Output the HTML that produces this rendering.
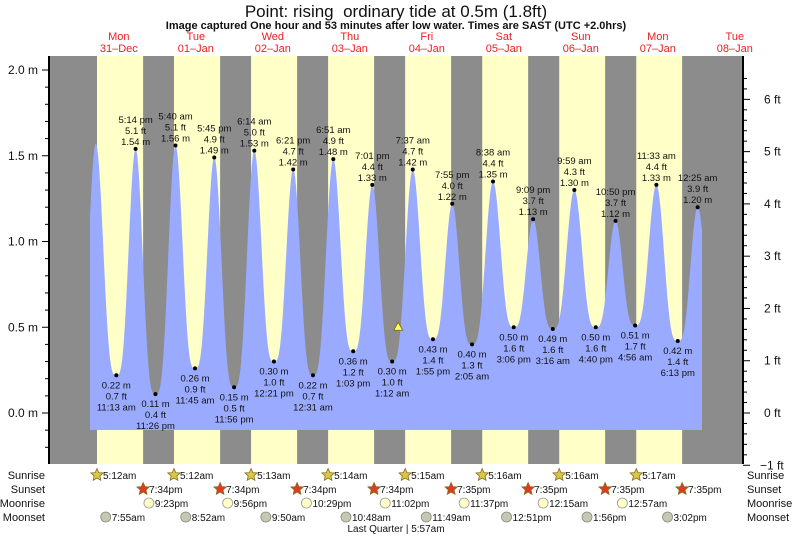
<!DOCTYPE html>
<html><head><meta charset="utf-8"><style>
body{margin:0;background:#fff}
svg{display:block;font-family:"Liberation Sans",Arial,sans-serif}
</style></head><body>
<svg id="s" width="793" height="537" viewBox="0 0 793 537" xmlns="http://www.w3.org/2000/svg">
<text x="396" y="17" text-anchor="middle" font-size="17" fill="#111" style="white-space:pre">Point: rising  ordinary tide at 0.5m (1.8ft)</text>
<text x="396" y="29" text-anchor="middle" font-size="11" font-weight="bold" fill="#111">Image captured One hour and 53 minutes after low water. Times are SAST (UTC +2.0hrs)</text>
<text x="396" y="532" text-anchor="middle" font-size="10" fill="#111">Last Quarter | 5:57am</text>
</svg>
<script>
const S=document.getElementById('s');const NS='http://www.w3.org/2000/svg';
function el(t,a,txt){const e=document.createElementNS(NS,t);for(const k in a)e.setAttribute(k,a[k]);if(txt!==undefined)e.textContent=txt;S.appendChild(e);return e;}
const X=h=>97+(h-5.2)*3.2083;const Y=m=>413-m*171.5;
function hm(s){let [t,ap]=s.split(' ');let [h,m]=t.split(':').map(Number);if(ap=='pm'&&h!=12)h+=12;if(ap=='am'&&h==12)h=0;return h+m/60;}
el('rect',{x:50,y:56,width:693,height:408,fill:'#8c8c8c'});
const sr=[5.2,5.2,5.22,5.23,5.25,5.27,5.27,5.28],ss=[19.57,19.57,19.57,19.57,19.58,19.58,19.58,19.58];
for(let d=0;d<8;d++){el('rect',{x:X(d*24+sr[d]),y:56,width:X(d*24+ss[d])-X(d*24+sr[d]),height:408,fill:'#ffffc8'});}
const E=[[0,'4:50 am',1.57,1],[0,'11:13 am',0.22,0],[0,'5:14 pm',1.54,1],[0,'11:26 pm',0.11,0],
[1,'5:40 am',1.56,1],[1,'11:45 am',0.26,0],[1,'5:45 pm',1.49,1],[1,'11:56 pm',0.15,0],
[2,'6:14 am',1.53,1],[2,'12:21 pm',0.30,0],[2,'6:21 pm',1.42,1],
[3,'12:31 am',0.22,0],[3,'6:51 am',1.48,1],[3,'1:03 pm',0.36,0],[3,'7:01 pm',1.33,1],
[4,'1:12 am',0.30,0],[4,'7:37 am',1.42,1],[4,'1:55 pm',0.43,0],[4,'7:55 pm',1.22,1],
[5,'2:05 am',0.40,0],[5,'8:38 am',1.35,1],[5,'3:06 pm',0.50,0],[5,'9:09 pm',1.13,1],
[6,'3:16 am',0.49,0],[6,'9:59 am',1.30,1],[6,'4:40 pm',0.50,0],[6,'10:50 pm',1.12,1],
[7,'4:56 am',0.51,0],[7,'11:33 am',1.33,1],[7,'6:13 pm',0.42,0],[8,'12:25 am',1.20,1],[8,'6:40 am',0.45,0]];
const P=E.map(e=>[e[0]*24+hm(e[1]),e[2]]);
P.unshift([P[0][0]-6.2,0.2]);
let d='M90,430';
for(let x=90;x<=702;x+=0.5){const h=5.2+(x-97)/3.2083;let i=0;while(i<P.length-2&&P[i+1][0]<h)i++;const [t0,m0]=P[i],[t1,m1]=P[i+1];const f=Math.min(1,Math.max(0,(h-t0)/(t1-t0)));let u=(1-Math.cos(Math.PI*f))/2;let lo,hi;if(m1>m0){lo=m0;hi=m1;}else{lo=m1;hi=m0;u=1-u;}const m=lo+(hi-lo)*Math.pow(u,1.7);d+=' L'+x+','+Y(m).toFixed(1);}
d+=' L702,430 Z';el('path',{d:d,fill:'#9aabff'});
E.slice(1,31).forEach(e=>{const x=X(e[0]*24+hm(e[1])),y=Y(e[2]);el('circle',{cx:x,cy:y,r:2,fill:'#000'});const ft=(e[2]*3.2808).toFixed(1)+' ft',m=e[2].toFixed(2)+' m';const a={'text-anchor':'middle','font-size':'9.5',fill:'#111'};
if(e[3]){el('text',Object.assign({x:x,y:y-4},a),m);el('text',Object.assign({x:x,y:y-15},a),ft);el('text',Object.assign({x:x,y:y-26},a),e[1]);}
else{el('text',Object.assign({x:x,y:y+13},a),m);el('text',Object.assign({x:x,y:y+24},a),ft);el('text',Object.assign({x:x,y:y+35},a),e[1]);}});
const cx=X(4*24+3.08),cy=Y(0.5);el('path',{d:`M${cx},${cy-5} L${cx+4.5},${cy+3} L${cx-4.5},${cy+3} Z`,fill:'#ffff66',stroke:'#886600','stroke-width':0.8});
el('line',{x1:49,y1:56,x2:49,y2:464,stroke:'#000','stroke-width':2});
el('line',{x1:743,y1:56,x2:743,y2:464,stroke:'#000','stroke-width':2});
for(let i=-2;i<=20;i++){const y=Y(i/10);if(y<56)continue;el('line',{x1:i%5==0?42:45,y1:y,x2:49,y2:y,stroke:'#000'});if(i%5==0&&i>=0)el('text',{x:38,y:y+4,'text-anchor':'end','font-size':'12',fill:'#111'},(i/10).toFixed(1)+' m');}
for(let f=-1;f<=6.5;f+=0.2){const y=Y(f*0.3048);if(y<56)continue;const maj=Math.abs(f-Math.round(f))<0.01;el('line',{x1:743,y1:y,x2:maj?750:747,y2:y,stroke:'#000'});if(maj){const r=Math.round(f);el('text',{x:r==-1?760:764,y:y+4,'font-size':'12',fill:'#111'},(r==-1?'\u22121':r)+' ft');}}
const dn=['Mon','Tue','Wed','Thu','Fri','Sat','Sun','Mon','Tue'],dt=['31\u2013Dec','01\u2013Jan','02\u2013Jan','03\u2013Jan','04\u2013Jan','05\u2013Jan','06\u2013Jan','07\u2013Jan','08\u2013Jan'];
for(let i=0;i<9;i++){const x=X(i*24+12);el('text',{x:x,y:40,'text-anchor':'middle','font-size':'11',fill:'#e82020'},dn[i]);el('text',{x:x,y:52,'text-anchor':'middle','font-size':'11',fill:'#e82020'},dt[i]);}
const rows=['Sunrise','Sunset','Moonrise','Moonset'],ry=[475,489,503,517];
rows.forEach((r,i)=>{el('text',{x:45,y:ry[i]+4,'text-anchor':'end','font-size':'11',fill:'#111'},r);el('text',{x:747,y:ry[i]+4,'font-size':'11',fill:'#111'},r);});
function star(x,y,fill){let p='';for(let k=0;k<10;k++){const r=k%2?3:6.5,a=-Math.PI/2+k*Math.PI/5;p+=(k?'L':'M')+(x+r*Math.cos(a)).toFixed(1)+','+(y+r*Math.sin(a)).toFixed(1);}el('path',{d:p+'Z',fill:fill,stroke:'#8a6a20','stroke-width':0.8});}
function lab(x,y,t){el('text',{x:x+6,y:y+4,'font-size':'10',fill:'#111'},t);}
const srT=['5:12am','5:12am','5:13am','5:14am','5:15am','5:16am','5:16am','5:17am'];
for(let i=0;i<8;i++){let x=X(i*24+sr[i]);star(x,ry[0],'#d8c848');lab(x,ry[0],srT[i]);x=X(i*24+ss[i]);star(x,ry[1],'#e03a20');lab(x,ry[1],i<4?'7:34pm':'7:35pm');}
const mr=[[0,'9:23 pm'],[1,'9:56 pm'],[2,'10:29 pm'],[3,'11:02 pm'],[4,'11:37 pm'],[6,'12:15 am'],[7,'12:57 am']];
mr.forEach(e=>{const x=X(e[0]*24+hm(e[1]));el('circle',{cx:x,cy:ry[2],r:5,fill:'#ffffc8',stroke:'#999','stroke-width':0.8});lab(x,ry[2],e[1].replace(' ',''));});
const ms=[[0,'7:55 am'],[1,'8:52 am'],[2,'9:50 am'],[3,'10:48 am'],[4,'11:49 am'],[5,'12:51 pm'],[6,'1:56 pm'],[7,'3:02 pm']];
ms.forEach(e=>{const x=X(e[0]*24+hm(e[1]));el('circle',{cx:x,cy:ry[3],r:5,fill:'#c8c8b0',stroke:'#888','stroke-width':0.8});lab(x,ry[3],e[1].replace(' ',''));});
</script>
</body></html>
